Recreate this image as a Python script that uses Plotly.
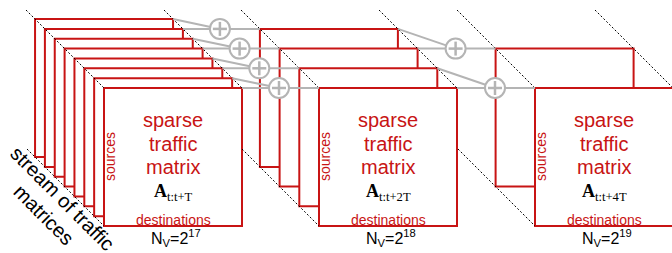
import plotly.graph_objects as go

# ---- data ----
stack_counts = [8, 4, 2]              # matrices stacked in each window
exponents = [17, 18, 19]              # N_V = 2^k
window_labels = ["t:t+T", "t:t+2T", "t:t+4T"]
title_lines = ["sparse", "traffic", "matrix"]
axis_labels = {"rows": "sources", "cols": "destinations"}
stream_lines = ["stream of traffic", "matrices"]

# ---- layout constants ----
W, H = 672, 253
front_left = [104, 319, 535]
front_top = 88
size = 138
base_step = 9.85
RED = "#c81414"
GRAY = "#b4b4b4"
line_top_y = 10
line_bot_y = 149

shapes = []
annotations = []


def square_pos(g, i):
    n = stack_counts[g]
    step = base_step * (2 ** g)
    k = n - 1 - i
    return front_left[g] - k * step, front_top - k * step


# squares (back to front)
for g, n in enumerate(stack_counts):
    for i in range(n):
        x0, y0 = square_pos(g, i)
        shapes.append(dict(type="rect", xref="x", yref="y", x0=x0, y0=y0,
                           x1=x0 + size, y1=y0 + size,
                           line=dict(color=RED, width=2), fillcolor="white",
                           layer="above"))

# dotted diagonal guide lines
dot = dict(color="black", width=1, dash="2px,2px")
for g, n in enumerate(stack_counts):
    fx, fy = front_left[g], front_top
    shapes.append(dict(type="line", xref="x", yref="y",
                       x0=fx - (fy - line_top_y), y0=line_top_y, x1=fx, y1=fy, line=dot))
    shapes.append(dict(type="line", xref="x", yref="y",
                       x0=fx - (fy + size - line_bot_y), y0=line_bot_y,
                       x1=fx, y1=fy + size, line=dot))
    shapes.append(dict(type="line", xref="x", yref="y",
                       x0=fx + size - (fy - line_top_y), y0=line_top_y,
                       x1=fx + size, y1=fy, line=dot))

# gray summation links and circled plus signs
gl = dict(color=GRAY, width=2)
for g in range(len(stack_counts) - 1):
    for k in range(stack_counts[g + 1]):
        ox, oy = square_pos(g + 1, k)
        ax, ay = square_pos(g, 2 * k)
        bx, by = square_pos(g, 2 * k + 1)
        cx, cy = ox - 40, oy
        shapes.append(dict(type="line", xref="x", yref="y",
                           x0=ax + size, y0=ay, x1=cx, y1=cy, line=gl))
        shapes.append(dict(type="line", xref="x", yref="y",
                           x0=bx + size, y0=by, x1=ox, y1=oy, line=gl))
        r = 10
        shapes.append(dict(type="circle", xref="x", yref="y",
                           x0=cx - r, y0=cy - r, x1=cx + r, y1=cy + r,
                           line=dict(color=GRAY, width=2), fillcolor="white"))
        a = 7
        shapes.append(dict(type="line", xref="x", yref="y",
                           x0=cx - a, y0=cy, x1=cx + a, y1=cy,
                           line=dict(color=GRAY, width=2.5)))
        shapes.append(dict(type="line", xref="x", yref="y",
                           x0=cx, y0=cy - a, x1=cx, y1=cy + a,
                           line=dict(color=GRAY, width=2.5)))

SANS = "Liberation Sans, Arial, sans-serif"
SERIF = "Liberation Serif, Times New Roman, serif"

for g in range(len(stack_counts)):
    cx = front_left[g] + size / 2
    for j, t in enumerate(title_lines):
        annotations.append(dict(x=cx, y=120 + 23.5 * j, text=t, showarrow=False,
                                xanchor="center", yanchor="middle",
                                font=dict(family=SANS, size=20, color=RED)))
    annotations.append(dict(x=cx, y=192,
                            text="<b>A</b><sub>" + window_labels[g] + "</sub>",
                            showarrow=False, xanchor="center", yanchor="middle",
                            font=dict(family=SERIF, size=18, color="black")))
    annotations.append(dict(x=cx, y=219.5, text=axis_labels["cols"], showarrow=False,
                            xanchor="center", yanchor="middle",
                            font=dict(family=SANS, size=14, color=RED)))
    annotations.append(dict(x=front_left[g] + 6, y=157, text=axis_labels["rows"],
                            showarrow=False, textangle=-90,
                            xanchor="center", yanchor="middle",
                            font=dict(family=SANS, size=14, color=RED)))
    annotations.append(dict(x=cx + 3, y=238,
                            text="N<sub>V</sub>=2<sup>%d</sup>" % exponents[g],
                            showarrow=False, xanchor="center", yanchor="middle",
                            font=dict(family=SANS, size=16, color="black")))

for (sx, sy), t in zip([(62, 198), (44, 215)], stream_lines):
    annotations.append(dict(x=sx, y=sy, text=t, showarrow=False, textangle=45,
                            xanchor="center", yanchor="middle",
                            font=dict(family=SANS, size=20, color="black")))

fig = go.Figure()
fig.add_trace(go.Scatter(x=[0, W], y=[0, H], mode="markers",
                         marker=dict(opacity=0), hoverinfo="skip", showlegend=False))
fig.update_layout(
    width=W, height=H, margin=dict(l=0, r=0, t=0, b=0),
    paper_bgcolor="white", plot_bgcolor="white",
    xaxis=dict(range=[0, W], visible=False, fixedrange=True),
    yaxis=dict(range=[H, 0], visible=False, fixedrange=True),
    shapes=shapes, annotations=annotations, showlegend=False,
)
fig.write_html(
    "out.html",
    config={"displayModeBar": False, "staticPlot": True},
    post_script="document.body.style.margin='0';document.body.style.overflow='hidden';",
)
